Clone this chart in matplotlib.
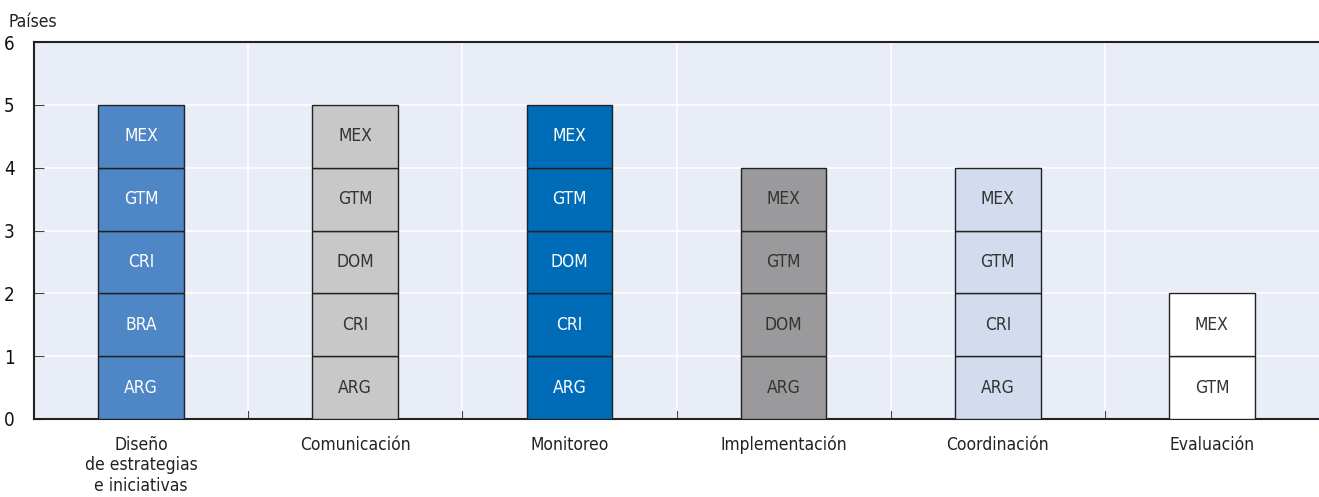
import matplotlib
matplotlib.use("Agg")
import matplotlib.pyplot as plt
from matplotlib import font_manager

cond = [f for f in font_manager.fontManager.ttflist if f.name == "DejaVu Sans" and "ondensed" in f.fname]
plt.rcParams['font.family'] = ['DejaVu Sans']
plt.rcParams['font.stretch'] = 'condensed' if cond else 'normal'

categories = ["Diseño\nde estrategias\ne iniciativas", "Comunicación", "Monitoreo",
              "Implementación", "Coordinación", "Evaluación"]
stacks = [
    ["ARG", "BRA", "CRI", "GTM", "MEX"],
    ["ARG", "CRI", "DOM", "GTM", "MEX"],
    ["ARG", "CRI", "DOM", "GTM", "MEX"],
    ["ARG", "DOM", "GTM", "MEX"],
    ["ARG", "CRI", "GTM", "MEX"],
    ["GTM", "MEX"],
]
colors = ["#4E86C6", "#C8C8C8", "#006BB6", "#9A9A9C", "#D3DCEF", "#FFFFFF"]
text_colors = ["white", "#333333", "white", "#333333", "#333333", "#333333"]
y_ticks = [0, 1, 2, 3, 4, 5, 6]

fig = plt.figure(figsize=(13.19, 4.97), dpi=100)
ax = fig.add_axes([34/1319, 1 - 419/497, 1285/1319, (419-42)/497])
ax.set_facecolor("#E9EDF7")

for i, st in enumerate(stacks):
    for j, lab in enumerate(st):
        ax.bar(i, 1, bottom=j, width=0.4, color=colors[i], edgecolor="#222222",
               linewidth=1.0, zorder=3)
        ax.text(i, j + 0.5, lab, ha="center", va="center", fontsize=12.5,
                color=text_colors[i], zorder=4)

ax.set_xlim(-0.5, len(categories) - 0.5)
ax.set_ylim(0, 6)
ax.set_yticks(y_ticks)
ax.set_yticklabels([str(v) for v in y_ticks], fontsize=13.5, color="#111111")
ax.set_xticks(range(len(categories)))
ax.set_xticklabels(categories, fontsize=12.5, color="#222222", linespacing=1.2)
ax.tick_params(axis="x", length=0, pad=12)
ax.tick_params(axis="y", direction="in", length=7, width=0.8, pad=14, color="#444444")

for v in y_ticks[1:-1]:
    ax.axhline(v, color="white", linewidth=1.2, zorder=1)
for b in range(1, len(categories)):
    ax.axvline(b - 0.5, color="white", linewidth=1.2, zorder=1)
    ax.plot([b - 0.5, b - 0.5], [0, 0.12], color="#444444", linewidth=0.8, zorder=2)

for s in ["left", "bottom", "top"]:
    ax.spines[s].set_color("#222222")
    ax.spines[s].set_linewidth(1.5)
ax.spines["right"].set_visible(False)

fig.text(9/1319, 1 - 22/497, "Países", fontsize=12.5, color="#222222", va="center")

fig.savefig("out.png", dpi=100)
